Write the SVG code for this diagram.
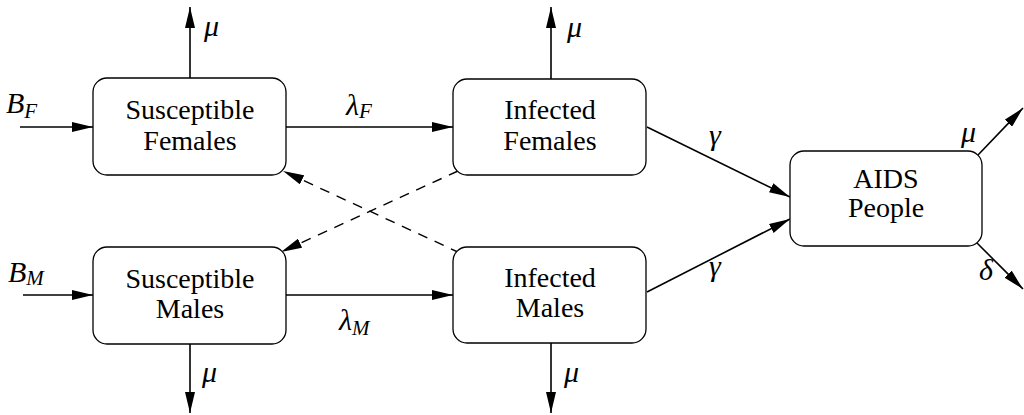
<svg xmlns="http://www.w3.org/2000/svg" width="1024" height="415" viewBox="0 0 1024 415">
<style>
.box{fill:#fff;stroke:#000;stroke-width:1.3}
.ln{stroke:#000;stroke-width:1.6;fill:none}
.dash{stroke:#000;stroke-width:1.4;fill:none;stroke-dasharray:10 8}
</style>
<defs>
<marker id="ah" markerUnits="userSpaceOnUse" markerWidth="22" markerHeight="10" refX="21" refY="5" orient="auto">
<path d="M0,0 L21,5 L0,10 z" fill="#000"/>
</marker>
</defs>
<g id="connectors">
<line class="ln" x1="20" y1="127" x2="93" y2="127" marker-end="url(#ah)"/>
<line class="ln" x1="23" y1="295" x2="93" y2="295" marker-end="url(#ah)"/>
<line class="ln" x1="190" y1="78" x2="190" y2="7" marker-end="url(#ah)"/>
<line class="ln" x1="551" y1="79" x2="551" y2="7" marker-end="url(#ah)"/>
<line class="ln" x1="190" y1="344" x2="190" y2="413" marker-end="url(#ah)"/>
<line class="ln" x1="551" y1="343" x2="551" y2="413" marker-end="url(#ah)"/>
<line class="ln" x1="286" y1="127" x2="453" y2="127" marker-end="url(#ah)"/>
<line class="ln" x1="286" y1="295" x2="453" y2="295" marker-end="url(#ah)"/>
<line class="ln" x1="647" y1="127" x2="790" y2="197" marker-end="url(#ah)"/>
<line class="ln" x1="647" y1="292" x2="790" y2="219" marker-end="url(#ah)"/>
<line class="ln" x1="978" y1="155" x2="1023" y2="108" marker-end="url(#ah)"/>
<line class="ln" x1="977" y1="243" x2="1023" y2="289" marker-end="url(#ah)"/>
<line class="dash" x1="460" y1="253" x2="283" y2="171" marker-end="url(#ah)"/>
<line class="dash" x1="458" y1="171" x2="281" y2="252" marker-end="url(#ah)"/>
<text font-family="Liberation Serif" font-style="italic" font-size="30" x="6" y="113">B<tspan font-size="21" dy="5">F</tspan></text>
<text font-family="Liberation Serif" font-style="italic" font-size="30" x="8" y="282">B<tspan font-size="21" dy="3">M</tspan></text>
<text font-family="Liberation Serif" font-style="italic" font-size="30" x="204" y="36">μ</text>
<text font-family="Liberation Serif" font-style="italic" font-size="30" x="567" y="37">μ</text>
<text font-family="Liberation Serif" font-style="italic" font-size="30" x="202" y="382">μ</text>
<text font-family="Liberation Serif" font-style="italic" font-size="30" x="564" y="382">μ</text>
<text font-family="Liberation Serif" font-style="italic" font-size="30" x="346" y="115">λ<tspan font-size="21" dy="3">F</tspan></text>
<text font-family="Liberation Serif" font-style="italic" font-size="30" x="339" y="330">λ<tspan font-size="21" dy="5">M</tspan></text>
<text font-family="Liberation Serif" font-style="italic" font-size="30" x="709" y="145">γ</text>
<text font-family="Liberation Serif" font-style="italic" font-size="30" x="709" y="276">γ</text>
<text font-family="Liberation Serif" font-style="italic" font-size="30" x="961" y="142">μ</text>
<text font-family="Liberation Serif" font-style="italic" font-size="30" x="979" y="280">δ</text>
</g>
<g id="susceptible-females">
<rect class="box" x="93" y="78" width="193" height="97" rx="14"/>
<text font-family="Liberation Serif" font-size="28" text-anchor="middle" x="190" y="119">Susceptible</text>
<text font-family="Liberation Serif" font-size="28" text-anchor="middle" x="190" y="150">Females</text>
</g>
<g id="infected-females">
<rect class="box" x="453" y="79" width="193" height="96" rx="14"/>
<text font-family="Liberation Serif" font-size="28" text-anchor="middle" x="550" y="119">Infected</text>
<text font-family="Liberation Serif" font-size="28" text-anchor="middle" x="550" y="150">Females</text>
</g>
<g id="aids-people">
<rect class="box" x="790" y="151" width="192" height="95" rx="14"/>
<text font-family="Liberation Serif" font-size="28" text-anchor="middle" x="886" y="188">AIDS</text>
<text font-family="Liberation Serif" font-size="28" text-anchor="middle" x="886" y="217">People</text>
</g>
<g id="susceptible-males">
<rect class="box" x="93" y="247" width="193" height="97" rx="14"/>
<text font-family="Liberation Serif" font-size="28" text-anchor="middle" x="190" y="288">Susceptible</text>
<text font-family="Liberation Serif" font-size="28" text-anchor="middle" x="190" y="318">Males</text>
</g>
<g id="infected-males">
<rect class="box" x="453" y="247" width="193" height="96" rx="14"/>
<text font-family="Liberation Serif" font-size="28" text-anchor="middle" x="550" y="287">Infected</text>
<text font-family="Liberation Serif" font-size="28" text-anchor="middle" x="550" y="317">Males</text>
</g>
</svg>
